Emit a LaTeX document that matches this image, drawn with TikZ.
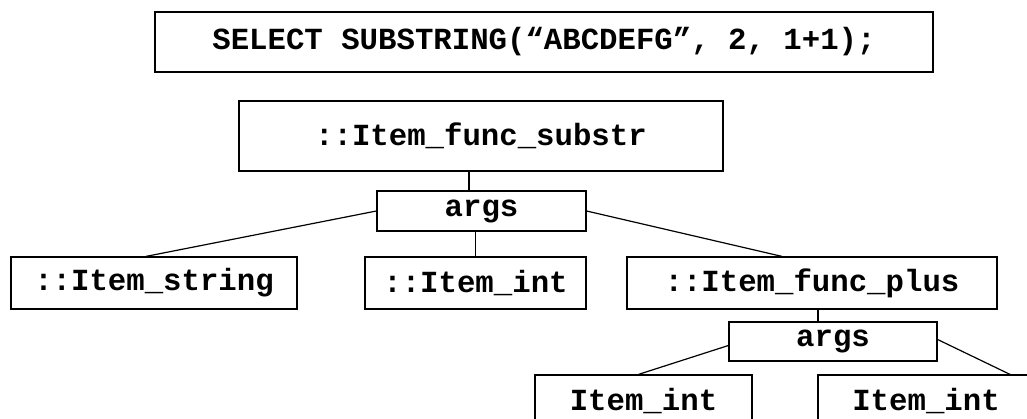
\documentclass[tikz,border=0pt]{standalone}
\usepackage{fontspec}
\setmonofont{Liberation Mono}
\usepackage{tikz}
\usetikzlibrary{positioning}

\begin{document}
\begin{tikzpicture}[
            x=1pt, y=1pt,
            box/.style={draw, line width=1.2pt, inner sep=0pt, font=\ttfamily\bfseries\fontsize{30.7}{36}\selectfont},
            link/.style={line width=1.2pt}
        ]
        \path[use as bounding box, clip] (0,0) rectangle (1027,418);
        \node[box, minimum width=778, minimum height=60] (query) at (544,376) {SELECT SUBSTRING(“ABCDEFG”, 2, 1+1);};
        \node[box, minimum width=484, minimum height=70] (substr) at (481,282) {::Item\_func\_substr};
        \node[box, minimum width=209, minimum height=40] (argsA) at (481.5,207) {args};
        \node[box, minimum width=286, minimum height=52] (strng) at (154,135) {::Item\_string};
        \node[box, minimum width=221, minimum height=52] (intA) at (475.5,135) {::Item\_int};
        \node[box, minimum width=370, minimum height=52] (plus) at (812,135) {::Item\_func\_plus};
        \node[box, minimum width=208, minimum height=39] (argsB) at (833,76.5) {args};
        \node[box, minimum width=217, minimum height=52] (intB) at (643.5,17) {Item\_int};
        \node[box, minimum width=216, minimum height=52] (intC) at (926,17) {Item\_int};
        \draw[link] ([xshift=-12]substr.south) -- ([xshift=-12.5]argsA.north);
        \draw[link] (argsA.west) -- ([xshift=-8]strng.north);
        \draw[link] (intA.north) -- (intA.north |- argsA.south);
        \draw[link] (argsA.east) -- ([xshift=-30]plus.north);
        \draw[link] ([xshift=6]plus.south) -- ([xshift=-15]argsB.north);
        \draw[link] ([yshift=-4]argsB.west) -- ([xshift=-5]intB.north);
        \draw[link] ([yshift=2]argsB.east) -- ([xshift=84]intC.north);
        \end{tikzpicture}
\end{document}
